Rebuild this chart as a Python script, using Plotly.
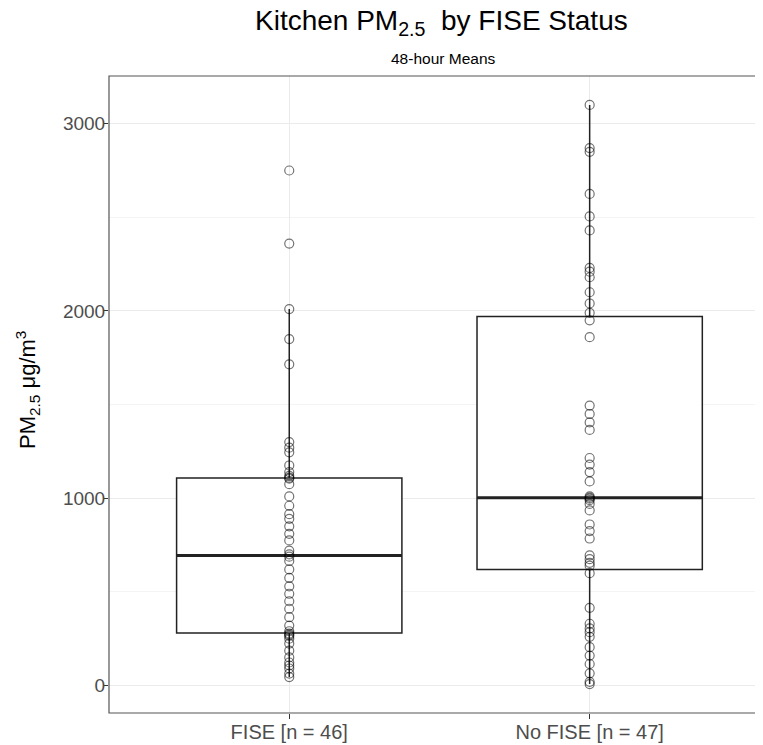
import numpy as np
import plotly.graph_objects as go

# ---- data -------------------------------------------------------------
categories = ["FISE [n = 46]", "No FISE [n = 47]"]

fise_pm25 = [
    45, 64, 91, 107, 123, 150, 186, 224, 250, 265, 272, 278, 290, 320, 365,
    410, 450, 490, 530, 575, 620, 665, 688, 700, 720, 775, 810, 850, 890, 915,
    960, 1010, 1075, 1105, 1110, 1120, 1140, 1175, 1245, 1270, 1300, 1715,
    1850, 2010, 2360, 2750,
]

nofise_pm25 = [
    8, 20, 65, 115, 160, 205, 260, 285, 305, 330, 415, 600, 640, 655, 675,
    695, 785, 825, 860, 935, 970, 990, 998, 1003, 1010, 1090, 1140, 1180,
    1215, 1365, 1405, 1450, 1495, 1860, 1950, 1990, 2040, 2100, 2180, 2210,
    2230, 2430, 2505, 2625, 2850, 2870, 3100,
]

y_ticks = [0, 1000, 2000, 3000]
title_text = "Kitchen PM<sub>2.5</sub>  by FISE Status"
subtitle_text = "48-hour Means"
ytitle_text = "PM<sub>2.5</sub> μg/m<sup>3</sup>"

groups = [fise_pm25, nofise_pm25]
positions = list(range(len(categories)))

# ---- box statistics (R type-7 quantiles, 1.5 IQR whiskers) ------------
q1s, meds, q3s, los, his = [], [], [], [], []
for vals in groups:
    v = np.array(vals, dtype=float)
    q1, med, q3 = np.percentile(v, [25, 50, 75])
    iqr = q3 - q1
    lo = v[v >= q1 - 1.5 * iqr].min()
    hi = v[v <= q3 + 1.5 * iqr].max()
    q1s.append(q1); meds.append(med); q3s.append(q3); los.append(lo); his.append(hi)

BOX_W = 0.75
FONT = "Liberation Sans, Arial, Helvetica, sans-serif"

fig = go.Figure()

fig.add_trace(go.Box(
    x=positions, q1=q1s, median=meds, q3=q3s, lowerfence=los, upperfence=his,
    width=BOX_W, fillcolor="white", boxpoints=False, whiskerwidth=0,
    line=dict(color="#222222", width=1.5), showlegend=False, hoverinfo="skip",
))

# thicker median line (ggplot fatten)
mx, my = [], []
for p, m in zip(positions, meds):
    mx += [p - BOX_W / 2, p + BOX_W / 2, None]
    my += [m, m, None]
fig.add_trace(go.Scatter(x=mx, y=my, mode="lines",
                         line=dict(color="#222222", width=3),
                         showlegend=False, hoverinfo="skip"))

for p, vals in zip(positions, groups):
    fig.add_trace(go.Scatter(
        x=[p] * len(vals), y=vals, mode="markers",
        marker=dict(symbol="circle-open", size=9, color="rgba(0,0,0,0.55)",
                    line=dict(width=1.2)),
        showlegend=False,
    ))

allv = np.array(fise_pm25 + nofise_pm25, dtype=float)
span = allv.max() - allv.min()
yr = [allv.min() - 0.05 * span, allv.max() + 0.05 * span]

# page has an 8px body margin: figure is shifted by (8, 8)
fig.update_layout(
    width=755, height=737,
    margin=dict(l=101, r=0, t=68, b=32),
    paper_bgcolor="white", plot_bgcolor="white",
    font=dict(family=FONT, color="#4D4D4D"),
    xaxis=dict(
        range=[-0.6, 1.577], tickvals=positions, ticktext=categories,
        showgrid=True, gridcolor="#EBEBEB", gridwidth=1, zeroline=False,
        ticks="outside", ticklen=5, tickcolor="#333333", tickwidth=1,
        tickfont=dict(size=20, color="#4D4D4D", family=FONT),
        ticklabelstandoff=-4,
        showline=False,
    ),
    yaxis=dict(
        range=yr, tickvals=y_ticks,
        showgrid=True, gridcolor="#EBEBEB", gridwidth=1, zeroline=False,
        minor=dict(dtick=500, tick0=0, showgrid=True, gridcolor="#F4F4F4",
                   gridwidth=0.6, ticks=""),
        ticks="outside", ticklen=5, tickcolor="#333333", tickwidth=1,
        tickfont=dict(size=19, color="#4D4D4D", family=FONT),
        ticklabelstandoff=-6,
        showline=False,
    ),
    shapes=[dict(type="rect", xref="paper", yref="paper", x0=0, x1=1.05,
                 y0=0, y1=1, line=dict(color="#555555", width=1.2),
                 fillcolor="rgba(0,0,0,0)", layer="above")],
    annotations=[
        dict(text=title_text, xref="paper", yref="paper",
             x=(442 - 109) / 654, y=1 + (76 - 22) / 637,
             xanchor="center", yanchor="middle", showarrow=False,
             font=dict(size=28, color="black", family=FONT)),
        dict(text=subtitle_text, xref="paper", yref="paper",
             x=(443 - 109) / 654, y=1 + (76 - 59) / 637,
             xanchor="center", yanchor="middle", showarrow=False,
             font=dict(size=15.5, color="black", family=FONT)),
        dict(text=ytitle_text, xref="paper", yref="paper",
             x=(27 - 109) / 654, y=(713 - 390) / 637, textangle=-90,
             xanchor="center", yanchor="middle", showarrow=False,
             font=dict(size=22, color="black", family=FONT)),
    ],
)

fig.write_html("out.html")
